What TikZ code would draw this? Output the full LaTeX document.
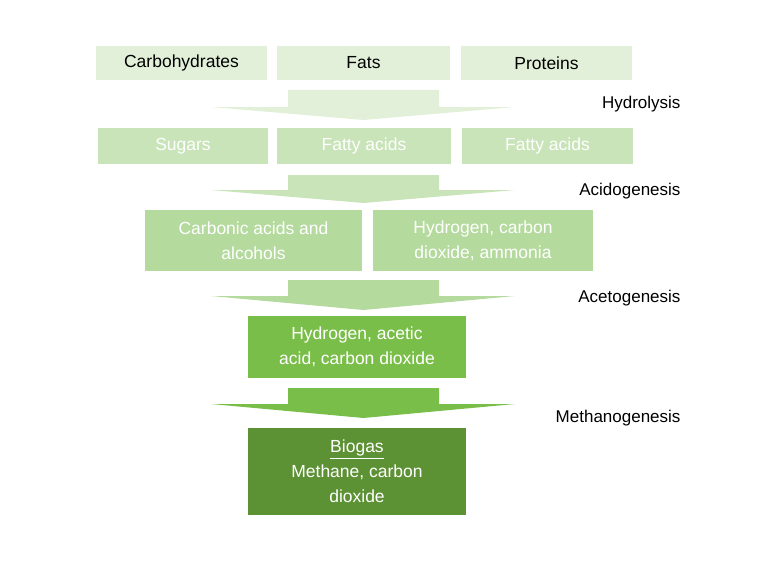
\documentclass[tikz,border=0pt]{standalone}
\usepackage{fontspec}
\setmainfont{Liberation Sans}
\usepackage{xcolor}
\usepackage{tikz}
\definecolor{greenA}{RGB}{226, 240, 217}
\definecolor{greenB}{RGB}{200, 228, 184}
\definecolor{greenC}{RGB}{180, 218, 158}
\definecolor{greenD}{RGB}{122, 190, 74}
\definecolor{greenE}{RGB}{92, 145, 52}
\tikzset{
  stagebox/.style={inner sep=0pt, outer sep=0pt, align=center, font=\fontsize{17.5}{25}\selectfont, text=white},
  stagelabel/.style={font=\fontsize{17}{20}\selectfont, anchor=east}
}
\begin{document}
\begin{tikzpicture}[x=1pt, y=-1pt]
      \useasboundingbox (0,0) rectangle (758,578);
      % Row 1: inputs
      \foreach \xa/\xb/\t/\nm in {96/267/Carbohydrates/carb, 277/450/Fats/fats, 461/632/Proteins/prot} {
        \node[stagebox, fill=greenA, text=black, minimum width=\xb-\xa, minimum height=34]
              (\nm) at ({(\xa+\xb)/2}, 63) {\t};
      }
      % Row 2: hydrolysis products
      \foreach \xa/\xb/\t/\nm in {98/268/Sugars/sug, 277/451/Fatty acids/fa, 462/633/Fatty acids/fb} {
        \node[stagebox, fill=greenB, minimum width=\xb-\xa, minimum height=36]
              (\nm) at ({(\xa+\xb)/2}, 146) {\t};
      }
      % Row 3: acidogenesis products
      \node[stagebox, fill=greenC, minimum width=217, minimum height=61] (acids) at (253.5, 240.5)
            {Carbonic acids and\\alcohols};
      \node[stagebox, fill=greenC, minimum width=220, minimum height=61] (hyd) at (483, 240.5)
            {Hydrogen, carbon\\dioxide, ammonia};
      % Row 4 and 5
      \node[stagebox, fill=greenD, minimum width=218, minimum height=62] (acet) at (357, 347)
            {Hydrogen, acetic\\acid, carbon dioxide};
      \node[stagebox, fill=greenE, minimum width=218, minimum height=87] (bio) at (357, 471.5)
            {\underline{Biogas}\\Methane, carbon\\dioxide};
      % arrows between rows
      \foreach \ys/\yh/\yt/\c/\lab/\ly/\nm in {
        90/107/120/greenA/Hydrolysis/104/hy,
        175/190/203/greenB/Acidogenesis/191/ac,
        280/296/310/greenC/Acetogenesis/298/at,
        388/404/418/greenD/Methanogenesis/418/me} {
          \fill[\c] (288,\ys) -- (439,\ys) -- (439,\yh) -- (515,\yh) -- (363.5,\yt)
                    -- (211,\yh) -- (288,\yh) -- cycle;
          \node[stagelabel] (\nm) at (684,\ly) {\lab};
        }
    \end{tikzpicture}
\end{document}
